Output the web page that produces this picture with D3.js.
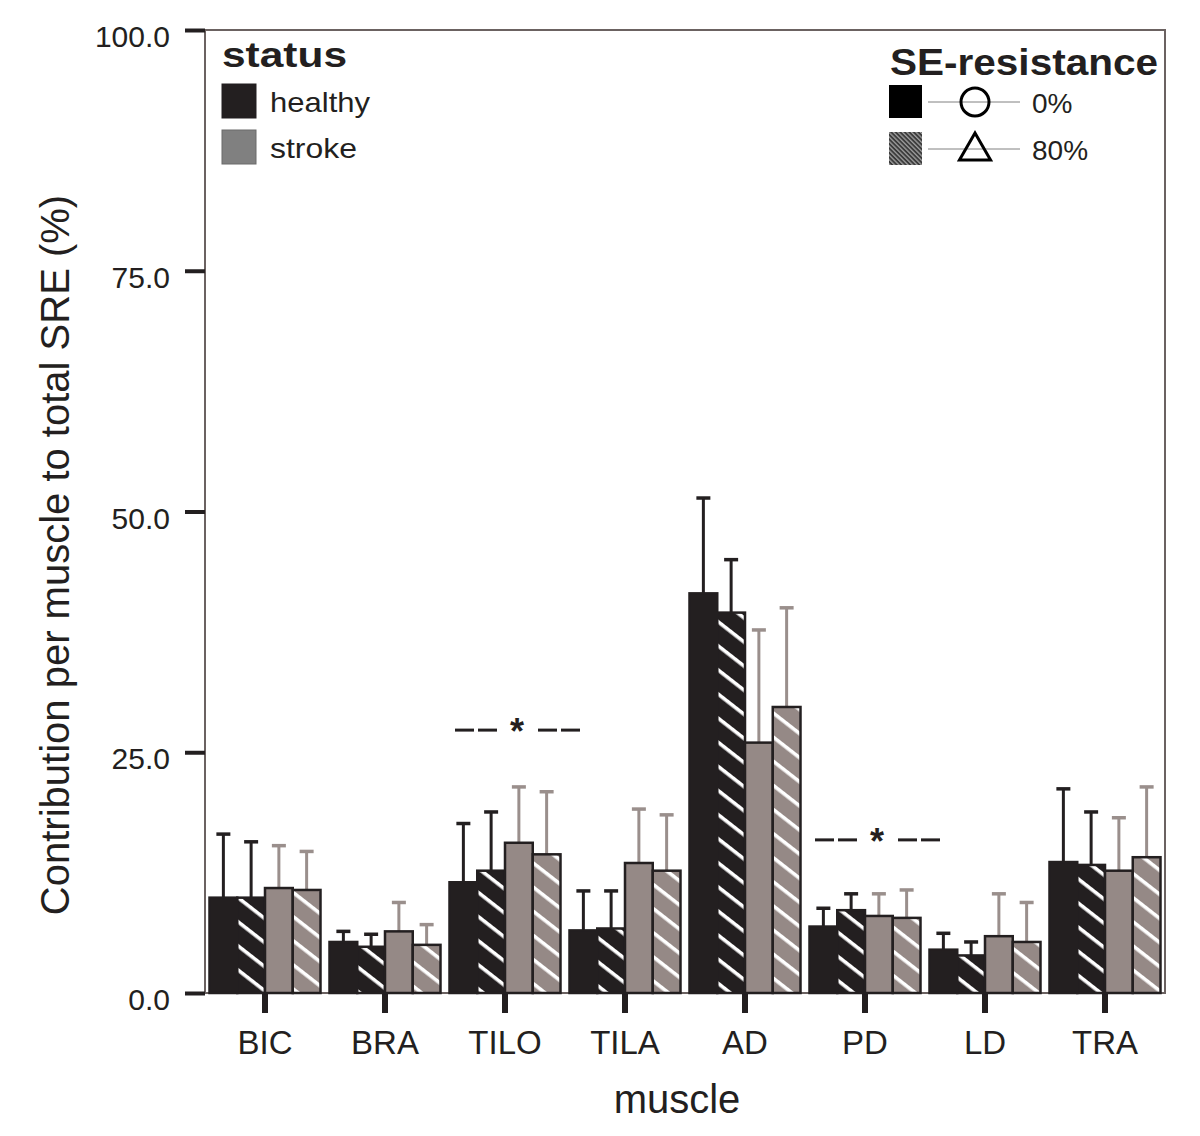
<!DOCTYPE html>
<html>
<head>
<meta charset="utf-8">
<script src="https://cdn.jsdelivr.net/npm/d3@7"></script>
<style>
  html, body { margin: 0; padding: 0; background: #fff; }
  svg text { font-family: "Liberation Sans", Arial, sans-serif; fill: #231f20; }
</style>
</head>
<body>
<svg id="chart" width="1200" height="1136"></svg>
<script>
// ---------- data ----------
const categories = ["BIC", "BRA", "TILO", "TILA", "AD", "PD", "LD", "TRA"];
const seriesKeys = ["healthy0", "healthy80", "stroke0", "stroke80"];
const healthy0   = [9.9, 5.3, 11.5, 6.5, 41.5, 6.9, 4.5, 13.6];
const healthy80  = [9.9, 4.8, 12.7, 6.7, 39.5, 8.6, 3.9, 13.3];
const stroke0    = [10.9, 6.4, 15.6, 13.5, 26.0, 8.0, 5.9, 12.7];
const stroke80   = [10.7, 5.0, 14.4, 12.7, 29.7, 7.8, 5.3, 14.1];
const healthy0Err  = [6.6, 1.1, 6.1, 4.1, 9.9, 1.9, 1.7, 7.6];
const healthy80Err = [5.8, 1.3, 6.1, 3.9, 5.5, 1.7, 1.4, 5.5];
const stroke0Err   = [4.4, 3.0, 5.8, 5.6, 11.7, 2.3, 4.4, 5.5];
const stroke80Err  = [4.0, 2.1, 6.5, 5.8, 10.3, 2.9, 4.1, 7.3];
const yTicks = [0, 25, 50, 75, 100];
const significant = ["TILO", "PD"];
const significanceLevel = [27.3, 15.9];
const statusLabels = ["healthy", "stroke"];
const resistanceLabels = ["0%", "80%"];

const values = { healthy0, healthy80, stroke0, stroke80 };
const errors = { healthy0: healthy0Err, healthy80: healthy80Err, stroke0: stroke0Err, stroke80: stroke80Err };

// ---------- layout ----------
const svg = d3.select("#chart");
const L = 205, R = 1165, T = 30, B = 993;
const darkCol = "#231f20", grayCol = "#958986", errGray = "#9a8f8c", frameCol = "#6b6261";
const FONT = "'Liberation Sans', Arial, sans-serif";

const x = d3.scaleBand().domain(categories).range([L, R]).paddingInner(0.075).paddingOuter(0.0375);
const xs = d3.scaleBand().domain(seriesKeys).range([0, x.bandwidth()]);
const y = d3.scaleLinear().domain([0, 100]).range([B, T]);

// ---------- patterns ----------
const defs = svg.append("defs");
function hatch(id, base) {
  const p = defs.append("pattern").attr("id", id).attr("patternUnits", "userSpaceOnUse")
    .attr("width", 10).attr("height", 19).attr("patternTransform", "rotate(38)");
  p.append("rect").attr("width", 10).attr("height", 19).attr("fill", base);
  p.append("rect").attr("y", 8).attr("width", 10).attr("height", 3.6).attr("fill", "#fff");
}
hatch("hatchDark", darkCol);
hatch("hatchGray", grayCol);
const lp = defs.append("pattern").attr("id", "legendHatch").attr("patternUnits", "userSpaceOnUse")
  .attr("width", 4).attr("height", 3.2).attr("patternTransform", "rotate(45)");
lp.append("rect").attr("width", 4).attr("height", 3.2).attr("fill", "#3a3a3a");
lp.append("rect").attr("y", 2).attr("width", 4).attr("height", 1).attr("fill", "#bdbdbd");

const fillFor = k => ({ healthy0: darkCol, healthy80: "url(#hatchDark)", stroke0: grayCol, stroke80: "url(#hatchGray)" })[k];
const errColFor = k => k.startsWith("healthy") ? darkCol : errGray;

// ---------- frame ----------
svg.append("rect").attr("x", L).attr("y", T).attr("width", R - L).attr("height", B - T)
  .attr("fill", "none").attr("stroke", frameCol).attr("stroke-width", 2);

// ---------- y axis ----------
const yAxis = d3.axisLeft(y).tickValues(yTicks).tickFormat(d3.format(".1f")).tickSize(20).tickPadding(15);
const ga = svg.append("g").attr("transform", `translate(${L},0)`).call(yAxis);
ga.select(".domain").remove();
ga.selectAll(".tick line").attr("stroke", darkCol).attr("stroke-width", 4);
ga.selectAll(".tick text").attr("font-size", 30).attr("fill", darkCol).attr("dy", "0.55em")
  .style("font-family", FONT);

// ---------- x axis ----------
const xAxis = d3.axisBottom(x).tickSize(20).tickPadding(18);
const gx = svg.append("g").attr("transform", `translate(0,${B})`).call(xAxis);
gx.select(".domain").remove();
gx.selectAll(".tick line").attr("stroke", darkCol).attr("stroke-width", 6);
gx.selectAll(".tick text").attr("font-size", 33).attr("fill", darkCol)
  .style("font-family", FONT);

// ---------- bars ----------
const flat = [];
categories.forEach((c, i) => seriesKeys.forEach(k => flat.push({ c, k, v: values[k][i], e: errors[k][i] })));

// error bars (behind bars)
const eg = svg.append("g");
flat.forEach(d => {
  const cx = x(d.c) + xs(d.k) + xs.bandwidth() / 2;
  eg.append("line").attr("x1", cx).attr("x2", cx).attr("y1", y(d.v)).attr("y2", y(d.v + d.e))
    .attr("stroke", errColFor(d.k)).attr("stroke-width", 3);
  eg.append("line").attr("x1", cx - 7).attr("x2", cx + 7).attr("y1", y(d.v + d.e)).attr("y2", y(d.v + d.e))
    .attr("stroke", errColFor(d.k)).attr("stroke-width", 3.5);
});

svg.append("g").selectAll("rect").data(flat).join("rect")
  .attr("x", d => x(d.c) + xs(d.k))
  .attr("y", d => y(d.v))
  .attr("width", xs.bandwidth())
  .attr("height", d => y(0) - y(d.v))
  .attr("fill", d => fillFor(d.k))
  .attr("stroke", darkCol).attr("stroke-width", 2.5);

// ---------- significance markers ----------
significant.forEach((c, i) => {
  const g = svg.append("g");
  const left = x(c), right = x(c) + x.bandwidth();
  const cx = (left + right) / 2 + 12;
  const yy = y(significanceLevel[i]);
  const dashes = [[-62, -43], [-39, -20], [21, 40], [44, 63]];
  dashes.forEach(dd => g.append("line").attr("x1", cx + dd[0]).attr("x2", cx + dd[1])
    .attr("y1", yy).attr("y2", yy).attr("stroke", darkCol).attr("stroke-width", 3));
  g.append("text").attr("x", cx).attr("y", yy + 14).attr("text-anchor", "middle")
    .attr("font-size", 36).attr("font-weight", "bold").text("*");
});

// ---------- axis titles ----------
svg.append("text").attr("transform", `translate(69,555) rotate(-90)`)
  .attr("text-anchor", "middle").attr("font-size", 40).text("Contribution per muscle to total SRE (%)");
svg.append("text").attr("x", 677).attr("y", 1113).attr("text-anchor", "middle")
  .attr("font-size", 40).text("muscle");

// ---------- legend: status ----------
const lg = svg.append("g");
lg.append("text").attr("x", 222).attr("y", 67).attr("font-size", 35).attr("font-weight", "bold")
  .attr("textLength", 125).attr("lengthAdjust", "spacingAndGlyphs").text("status");
const statusWidths = [100, 87];
[darkCol, "#808080"].forEach((col, i) => {
  lg.append("rect").attr("x", 222).attr("y", 84 + i * 46).attr("width", 34).attr("height", 34)
    .attr("fill", col).attr("stroke", i === 0 ? darkCol : "#6a6a6a").attr("stroke-width", 1);
  lg.append("text").attr("x", 270).attr("y", 112 + i * 46).attr("font-size", 28)
    .attr("textLength", statusWidths[i]).attr("lengthAdjust", "spacingAndGlyphs").text(statusLabels[i]);
});

// ---------- legend: SE-resistance ----------
const rg = svg.append("g");
rg.append("text").attr("x", 890).attr("y", 75).attr("font-size", 37).attr("font-weight", "bold")
  .attr("textLength", 268).attr("lengthAdjust", "spacingAndGlyphs").text("SE-resistance");
resistanceLabels.forEach((lab, i) => {
  const yc = 102 + i * 47;
  rg.append("rect").attr("x", 889).attr("y", yc - 17).attr("width", 33).attr("height", 33)
    .attr("fill", i === 0 ? "#000" : "url(#legendHatch)");
  rg.append("line").attr("x1", 928).attr("x2", 1020).attr("y1", yc).attr("y2", yc)
    .attr("stroke", "#808080").attr("stroke-width", 1);
  if (i === 0) {
    rg.append("circle").attr("cx", 975).attr("cy", yc).attr("r", 14)
      .attr("fill", "none").attr("stroke", "#000").attr("stroke-width", 3);
  } else {
    rg.append("path").attr("d", d3.symbol().type(d3.symbolTriangle).size(420)())
      .attr("transform", `translate(975,${yc + 2})`)
      .attr("fill", "none").attr("stroke", "#000").attr("stroke-width", 3);
  }
  rg.append("text").attr("x", 1032).attr("y", yc + 11).attr("font-size", 28).text(lab);
});
</script>
</body>
</html>
